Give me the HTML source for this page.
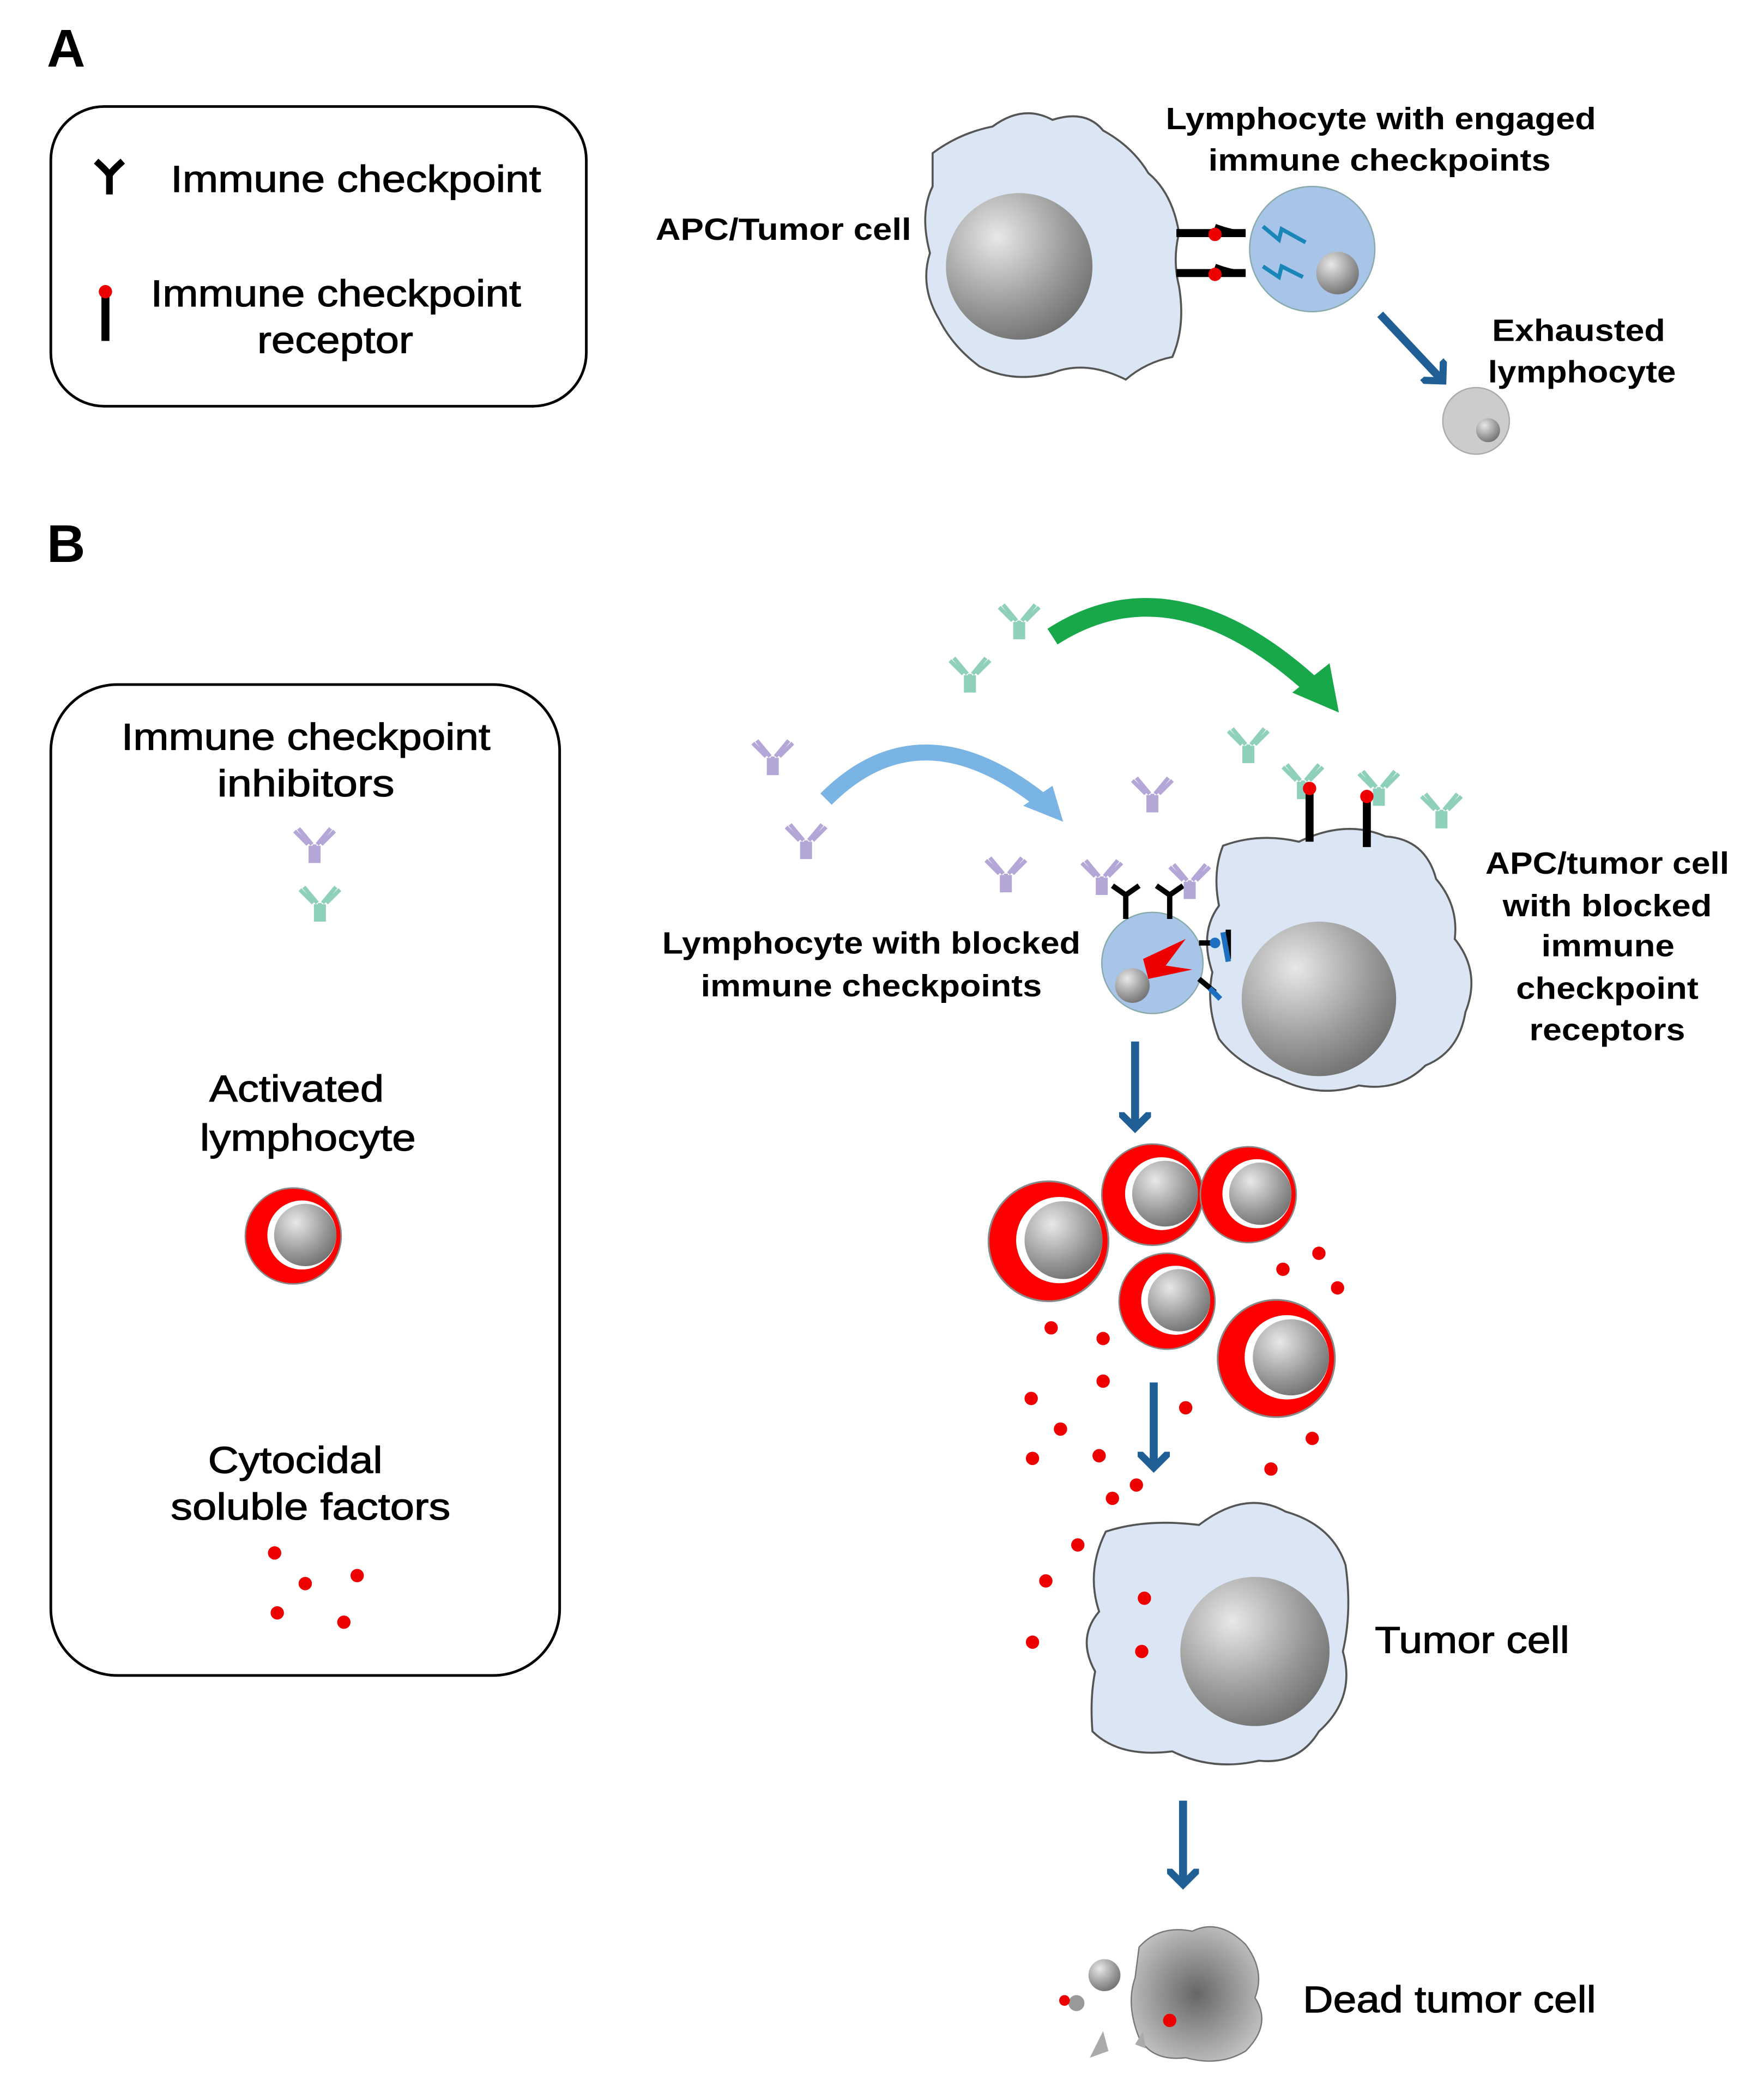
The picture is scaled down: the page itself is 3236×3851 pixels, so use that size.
<!DOCTYPE html>
<html><head><meta charset="utf-8"><style>
html,body{margin:0;padding:0;background:#fff}
svg{display:block}
text{font-family:"Liberation Sans",Arial,sans-serif;fill:#000}
.r{stroke:#000;stroke-width:0.5}
</style></head><body>
<svg width="3236" height="3851" viewBox="0 0 1324 1576" xmlns="http://www.w3.org/2000/svg">
<defs>
<radialGradient id="nuc" cx="0.35" cy="0.3" r="0.8"><stop offset="0" stop-color="#e8e8e8"/><stop offset="0.6" stop-color="#9a9a9a"/><stop offset="1" stop-color="#6a6a6a"/></radialGradient>
<radialGradient id="dead" cx="0.5" cy="0.5" r="0.6"><stop offset="0" stop-color="#666"/><stop offset="1" stop-color="#c8c8c8"/></radialGradient>
<g id="abp"><path d="M0,0 L0,-14 M-2,-14 L-12,-26 M2,-14 L12,-26 M-5,-14 L-15,-24 M5,-14 L15,-24 M-3,0 L-3,-13 M3,0 L3,-13" stroke="#b4a6d6" stroke-width="3" fill="none"/></g>
<g id="abg"><path d="M0,0 L0,-14 M-2,-14 L-12,-26 M2,-14 L12,-26 M-5,-14 L-15,-24 M5,-14 L15,-24 M-3,0 L-3,-13 M3,0 L3,-13" stroke="#8fd0bd" stroke-width="3" fill="none"/></g>
<g id="rc"><circle r="1" fill="#ff0000" stroke="#888" stroke-width="0.03"/><circle cx="0.18" cy="-0.02" r="0.72" fill="#fff"/><circle cx="0.25" cy="-0.02" r="0.65" fill="url(#nuc)"/></g>
<marker id="ah" markerWidth="4" markerHeight="4" refX="2" refY="2" orient="auto"><path d="M0,0 L2,2 L0,4" fill="none" stroke="#1f5f96" stroke-width="0.9"/></marker>
</defs>

<!-- Panel A -->
<text x="35" y="50" font-size="40" font-weight="bold">A</text>
<rect x="38" y="80" width="402" height="225" rx="40" fill="#fff" stroke="#000" stroke-width="2"/>
<path d="M72,121 Q82,130 82,132 L82,146 M92,121 Q82,130 82,132" stroke="#000" stroke-width="5" fill="none"/>
<text class="r" x="128" y="144" font-size="28" textLength="278" lengthAdjust="spacingAndGlyphs">Immune checkpoint</text>
<line x1="79" y1="222" x2="79" y2="256" stroke="#000" stroke-width="6"/>
<circle cx="79" cy="219" r="5" fill="#e00"/>
<text class="r" x="113" y="230" font-size="28" textLength="278" lengthAdjust="spacingAndGlyphs">Immune checkpoint</text>
<text class="r" x="193" y="265" font-size="28" textLength="117" lengthAdjust="spacingAndGlyphs">receptor</text>

<text x="492" y="180" font-size="23" font-weight="bold" textLength="192" lengthAdjust="spacingAndGlyphs">APC/Tumor cell</text>
<path d="M700,115 Q720,100 745,95 Q768,78 790,90 Q815,82 828,98 Q850,110 862,130 Q880,145 885,175 Q880,195 885,215 Q890,245 880,268 Q860,272 845,285 Q815,270 790,280 Q760,288 735,275 Q715,260 705,240 Q690,215 698,190 Q690,160 700,140 Z" fill="#dbe6f4" stroke="#555" stroke-width="1.5"/>
<circle cx="765" cy="200" r="55" fill="url(#nuc)"/>
<path d="M883,175 L935,175 M883,205 L935,205" stroke="#000" stroke-width="6"/>
<path d="M912,170 Q925,175 935,175 M912,200 Q925,205 935,205" stroke="#000" stroke-width="4" fill="none"/>
<circle cx="912" cy="176" r="5" fill="#e00"/><circle cx="912" cy="206" r="5" fill="#e00"/>
<circle cx="985" cy="187" r="47" fill="#a8c4e8" stroke="#8aa" stroke-width="1"/>
<circle cx="1004" cy="205" r="16" fill="url(#nuc)"/>
<path d="M948,170 L960,180 L962,172 L980,182 M948,200 L960,208 L962,200 L978,208" stroke="#1a86b8" stroke-width="3" fill="none"/>
<text x="875" y="97" font-size="23" font-weight="bold" textLength="323" lengthAdjust="spacingAndGlyphs">Lymphocyte with engaged</text>
<text x="907" y="128" font-size="23" font-weight="bold" textLength="257" lengthAdjust="spacingAndGlyphs">immune checkpoints</text>
<line x1="1036" y1="236" x2="1083" y2="286" stroke="#1f5f96" stroke-width="6" marker-end="url(#ah)"/>
<text x="1120" y="256" font-size="23" font-weight="bold" textLength="130" lengthAdjust="spacingAndGlyphs">Exhausted</text>
<text x="1117" y="287" font-size="23" font-weight="bold" textLength="141" lengthAdjust="spacingAndGlyphs">lymphocyte</text>
<circle cx="1108" cy="316" r="25" fill="#ccc" stroke="#aaa"/>
<circle cx="1117" cy="323" r="9" fill="url(#nuc)"/>

<!-- Panel B -->
<text x="35" y="422" font-size="40" font-weight="bold">B</text>
<rect x="38" y="514" width="382" height="744" rx="50" fill="#fff" stroke="#000" stroke-width="2"/>
<text class="r" x="91" y="563" font-size="28" textLength="277" lengthAdjust="spacingAndGlyphs">Immune checkpoint</text>
<text class="r" x="163" y="598" font-size="28" textLength="133" lengthAdjust="spacingAndGlyphs">inhibitors</text>
<use href="#abp" x="236" y="648"/>
<use href="#abg" x="240" y="692"/>
<text class="r" x="157" y="827" font-size="28" textLength="131" lengthAdjust="spacingAndGlyphs">Activated</text>
<text class="r" x="150" y="864" font-size="28" textLength="162" lengthAdjust="spacingAndGlyphs">lymphocyte</text>
<use href="#rc" transform="translate(220,928) scale(36)"/>
<text class="r" x="156" y="1106" font-size="28" textLength="131" lengthAdjust="spacingAndGlyphs">Cytocidal</text>
<text class="r" x="128" y="1141" font-size="28" textLength="210" lengthAdjust="spacingAndGlyphs">soluble factors</text>
<g fill="#e00"><circle cx="206" cy="1166" r="5"/><circle cx="229" cy="1189" r="5"/><circle cx="268" cy="1183" r="5"/><circle cx="208" cy="1211" r="5"/><circle cx="258" cy="1218" r="5"/></g>

<!-- arcs -->
<path d="M790,478 Q880,420 985,515" stroke="#18a84a" stroke-width="14" fill="none"/>
<path d="M970,520 L1005,535 L998,498 Z" fill="#18a84a"/>
<path d="M620,600 Q690,530 780,600" stroke="#7ab4e4" stroke-width="12" fill="none"/>
<path d="M768,605 L798,617 L790,590 Z" fill="#7ab4e4"/>
<use href="#abg" x="765" y="480"/><use href="#abg" x="728" y="520"/>
<use href="#abp" x="580" y="582"/><use href="#abp" x="605" y="645"/>
<use href="#abp" x="865" y="610"/><use href="#abp" x="755" y="670"/>
<use href="#abg" x="937" y="573"/><use href="#abg" x="978" y="600"/><use href="#abg" x="1035" y="605"/><use href="#abg" x="1082" y="622"/>

<!-- APC/tumor cell B -->
<path d="M918,635 Q945,625 975,632 Q1010,615 1040,628 Q1070,630 1078,660 Q1095,680 1092,705 Q1112,730 1100,760 Q1095,790 1070,800 Q1050,820 1020,815 Q990,825 960,810 Q930,800 915,780 Q905,755 910,730 Q900,700 915,680 Q910,655 918,635 Z" fill="#dbe6f4" stroke="#555" stroke-width="1.5"/>
<circle cx="990" cy="750" r="58" fill="url(#nuc)"/>
<line x1="983" y1="595" x2="983" y2="632" stroke="#000" stroke-width="6"/><circle cx="983" cy="592" r="5" fill="#e00"/>
<line x1="1026" y1="600" x2="1026" y2="636" stroke="#000" stroke-width="6"/><circle cx="1026" cy="598" r="5" fill="#e00"/>
<text x="1115" y="656" font-size="23" font-weight="bold" textLength="183" lengthAdjust="spacingAndGlyphs">APC/tumor cell</text>
<text x="1128" y="688" font-size="23" font-weight="bold" textLength="157" lengthAdjust="spacingAndGlyphs">with blocked</text>
<text x="1157" y="718" font-size="23" font-weight="bold" textLength="100" lengthAdjust="spacingAndGlyphs">immune</text>
<text x="1138" y="750" font-size="23" font-weight="bold" textLength="137" lengthAdjust="spacingAndGlyphs">checkpoint</text>
<text x="1148" y="781" font-size="23" font-weight="bold" textLength="117" lengthAdjust="spacingAndGlyphs">receptors</text>

<!-- Lymphocyte B -->
<circle cx="865" cy="723" r="38" fill="#a8c4e8" stroke="#8aa"/>
<circle cx="850" cy="740" r="13" fill="url(#nuc)"/>
<path d="M845,690 L845,672 L835,665 M845,672 L855,665 M878,690 L878,672 L868,665 M878,672 L888,665" stroke="#000" stroke-width="4" fill="none"/>
<use href="#abp" x="827" y="672"/><use href="#abp" x="893" y="675"/>
<path d="M858,720 L890,705 L875,725 L895,728 L862,735 Z" fill="#e00"/>
<path d="M900,708 L912,708 M922,698 L922,720 M900,735 L912,745" stroke="#000" stroke-width="4"/>
<circle cx="912" cy="708" r="4" fill="#1f6fc0"/><path d="M918,700 L922,722 M908,742 L916,750" stroke="#1f6fc0" stroke-width="4"/>
<text x="497" y="716" font-size="23" font-weight="bold" textLength="314" lengthAdjust="spacingAndGlyphs">Lymphocyte with blocked</text>
<text x="526" y="748" font-size="23" font-weight="bold" textLength="256" lengthAdjust="spacingAndGlyphs">immune checkpoints</text>

<line x1="852" y1="782" x2="852" y2="847" stroke="#1f5f96" stroke-width="6" marker-end="url(#ah)"/>

<use href="#rc" transform="translate(787,932) scale(45)"/>
<use href="#rc" transform="translate(865,897) scale(38)"/>
<use href="#rc" transform="translate(937,897) scale(36)"/>
<use href="#rc" transform="translate(876,977) scale(36)"/>
<use href="#rc" transform="translate(958,1020) scale(44)"/>
<g fill="#e00">
<circle cx="990" cy="941" r="5"/><circle cx="963" cy="953" r="5"/><circle cx="1004" cy="967" r="5"/>
<circle cx="789" cy="997" r="5"/><circle cx="828" cy="1005" r="5"/><circle cx="828" cy="1037" r="5"/>
<circle cx="774" cy="1050" r="5"/><circle cx="796" cy="1073" r="5"/><circle cx="890" cy="1057" r="5"/>
<circle cx="775" cy="1095" r="5"/><circle cx="825" cy="1093" r="5"/><circle cx="853" cy="1115" r="5"/>
<circle cx="835" cy="1125" r="5"/><circle cx="985" cy="1080" r="5"/><circle cx="954" cy="1103" r="5"/>
<circle cx="809" cy="1160" r="5"/><circle cx="785" cy="1187" r="5"/><circle cx="775" cy="1233" r="5"/>
</g>
<line x1="866" y1="1038" x2="866" y2="1102" stroke="#1f5f96" stroke-width="6" marker-end="url(#ah)"/>

<!-- Tumor cell -->
<path d="M830,1150 Q860,1140 900,1145 Q935,1118 965,1135 Q1000,1145 1010,1175 Q1015,1210 1008,1240 Q1018,1275 990,1300 Q975,1325 945,1322 Q910,1330 880,1315 Q840,1320 820,1300 Q818,1275 822,1255 Q808,1230 825,1210 Q815,1180 830,1150 Z" fill="#dbe6f4" stroke="#555" stroke-width="1.5"/>
<circle cx="942" cy="1240" r="56" fill="url(#nuc)"/>
<circle cx="859" cy="1200" r="5" fill="#e00"/><circle cx="857" cy="1240" r="5" fill="#e00"/>
<text class="r" x="1032" y="1241" font-size="28" textLength="146" lengthAdjust="spacingAndGlyphs">Tumor cell</text>

<line x1="888" y1="1352" x2="888" y2="1415" stroke="#1f5f96" stroke-width="6" marker-end="url(#ah)"/>

<!-- Dead tumor cell -->
<path d="M855,1462 Q870,1445 895,1450 Q915,1440 935,1460 Q950,1480 942,1500 Q955,1520 935,1540 Q915,1552 890,1545 Q865,1548 855,1530 Q845,1505 852,1485 Z" fill="url(#dead)" stroke="#777"/>
<circle cx="829" cy="1483" r="12" fill="url(#nuc)"/>
<circle cx="808" cy="1504" r="6" fill="#999"/>
<path d="M818,1545 L828,1525 L832,1540 Z" fill="#aaa"/><path d="M852,1535 L858,1525 L860,1538 Z" fill="#aaa"/>
<circle cx="799" cy="1502" r="4" fill="#e00"/><circle cx="878" cy="1517" r="5" fill="#e00"/>
<text class="r" x="978" y="1511" font-size="28" textLength="220" lengthAdjust="spacingAndGlyphs">Dead tumor cell</text>
</svg>
</body></html>
